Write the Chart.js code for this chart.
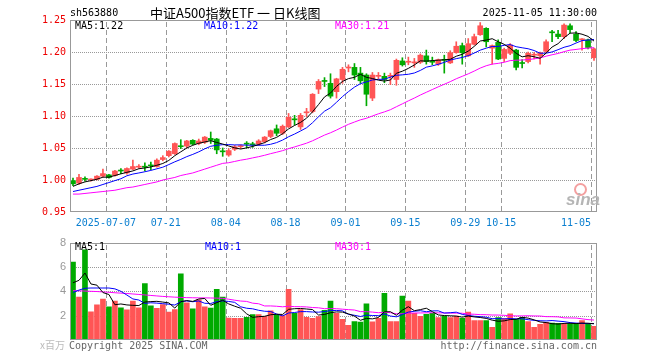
<!DOCTYPE html>
<html><head><meta charset="utf-8">
<script src="https://cdn.jsdelivr.net/npm/chart.js@4.4.1/dist/chart.umd.min.js"></script>
<style>
html,body{margin:0;padding:0;background:#fff;}
#wrap{position:relative;width:660px;height:360px;overflow:hidden;background:#fff;}
canvas{position:absolute;left:0;}
.t{position:absolute;white-space:pre;font-family:"DejaVu Sans Mono",monospace;font-size:10px;line-height:12px;}
</style></head><body>
<div id="wrap">
<canvas id="k" width="660" height="232" style="top:0;width:660px;height:232px"></canvas>
<canvas id="v" width="660" height="128" style="top:232px;width:660px;height:128px"></canvas>
<div class="t" style="left:70px;top:7px;color:#000">sh563880</div>
<div class="t" style="left:150px;top:5px;font-family:'Noto Sans CJK SC',sans-serif;font-size:13px;line-height:16px;color:#000">中证A500指数ETF 一 日K线图</div>
<div class="t" style="right:63px;top:7px;color:#000">2025-11-05 11:30:00</div>
<div class="t" id="pm5" style="left:75px;top:20px;color:#000"></div>
<div class="t" id="pm10" style="left:204px;top:20px;color:#0000ff"></div>
<div class="t" id="pm30" style="left:335px;top:20px;color:#ff00ff"></div>
<div class="t" id="vm5" style="left:75px;top:241px;color:#000"></div>
<div class="t" id="vm10" style="left:205px;top:241px;color:#0000ff"></div>
<div class="t" id="vm30" style="left:335px;top:241px;color:#ff00ff"></div>
<div class="t" style="right:595px;top:339px;color:#bbb;font-family:'Noto Sans CJK SC',sans-serif;font-size:10px;">x百万</div>
<div class="t" style="left:69px;top:340px;color:#666">Copyright 2025 SINA.COM</div>
<div class="t" style="right:63px;top:340px;color:#666">http://finance.sina.com.cn</div>
<div style="position:absolute;left:574px;top:183px;width:9px;height:9px;border:2px solid #f4a0a0;border-radius:50%;"></div>
<div class="t" style="left:566px;top:191px;color:#b5b5b5;font-family:'Liberation Sans',sans-serif;font-size:17px;line-height:18px;font-style:italic;font-weight:bold">sina</div>
</div>
<script>
const dates = ['06-27','06-30','07-01','07-02','07-03','07-04','07-07','07-08','07-09','07-10','07-11','07-14','07-15','07-16','07-17','07-18','07-21','07-22','07-23','07-24','07-25','07-28','07-29','07-30','07-31','08-01','08-04','08-05','08-06','08-07','08-08','08-11','08-12','08-13','08-14','08-15','08-18','08-19','08-20','08-21','08-22','08-25','08-26','08-27','08-28','08-29','09-01','09-02','09-03','09-04','09-05','09-08','09-09','09-10','09-11','09-12','09-15','09-16','09-17','09-18','09-19','09-22','09-23','09-24','09-25','09-26','09-29','09-30','10-09','10-10','10-13','10-14','10-15','10-16','10-17','10-20','10-21','10-22','10-23','10-24','10-27','10-28','10-29','10-30','10-31','11-03','11-04','11-05'];

const opens = [0.999,0.995,1.002,1.000,1.001,1.006,1.008,1.007,1.015,1.011,
1.017,1.020,1.021,1.023,1.021,1.032,1.038,1.041,1.053,1.053,
1.062,1.057,1.059,1.065,1.064,1.045,1.039,1.048,1.052,1.057,
1.056,1.056,1.060,1.068,1.080,1.073,1.083,1.095,1.083,1.105,
1.107,1.142,1.155,1.151,1.138,1.157,1.175,1.176,1.167,1.164,
1.128,1.162,1.162,1.162,1.157,1.186,1.184,1.183,1.184,1.194,
1.185,1.181,1.188,1.183,1.199,1.210,1.194,1.212,1.227,1.237,
1.206,1.215,1.190,1.198,1.203,1.183,1.185,1.195,1.194,1.201,
1.231,1.228,1.224,1.241,1.228,1.219,1.219,1.191];
const highs = [1.003,1.009,1.005,1.002,1.007,1.017,1.009,1.015,1.018,1.019,
1.031,1.024,1.027,1.028,1.033,1.038,1.046,1.058,1.063,1.062,
1.063,1.064,1.068,1.075,1.065,1.050,1.049,1.054,1.055,1.060,
1.059,1.063,1.068,1.078,1.086,1.086,1.104,1.101,1.104,1.112,
1.135,1.157,1.160,1.166,1.159,1.176,1.180,1.182,1.176,1.166,
1.168,1.168,1.167,1.167,1.189,1.191,1.192,1.190,1.197,1.203,
1.192,1.189,1.195,1.202,1.216,1.214,1.221,1.228,1.246,1.238,
1.211,1.219,1.206,1.213,1.204,1.188,1.200,1.199,1.200,1.219,
1.234,1.234,1.244,1.244,1.232,1.221,1.220,1.206];
const lows = [0.991,0.993,0.998,0.998,1.000,1.005,1.003,1.006,1.010,1.009,
1.016,1.018,1.014,1.016,1.020,1.030,1.036,1.040,1.049,1.050,
1.055,1.055,1.057,1.057,1.041,1.037,1.037,1.046,1.049,1.050,
1.051,1.054,1.058,1.066,1.069,1.071,1.082,1.086,1.079,1.099,
1.105,1.135,1.146,1.128,1.128,1.151,1.169,1.157,1.151,1.116,
1.124,1.158,1.152,1.149,1.148,1.178,1.180,1.176,1.182,1.181,
1.180,1.179,1.167,1.182,1.198,1.181,1.193,1.211,1.226,1.208,
1.181,1.188,1.185,1.196,1.172,1.175,1.183,1.189,1.181,1.199,
1.216,1.221,1.221,1.230,1.216,1.203,1.205,1.187];
const closes = [0.994,1.004,1.001,1.001,1.006,1.010,1.004,1.014,1.014,1.018,
1.021,1.021,1.020,1.022,1.031,1.035,1.045,1.057,1.052,1.061,
1.056,1.061,1.067,1.062,1.047,1.044,1.046,1.052,1.053,1.056,
1.055,1.061,1.067,1.077,1.073,1.084,1.098,1.094,1.101,1.106,
1.134,1.154,1.154,1.131,1.158,1.173,1.176,1.164,1.155,1.134,
1.164,1.163,1.157,1.163,1.187,1.180,1.185,1.184,1.195,1.185,
1.184,1.188,1.187,1.199,1.209,1.199,1.213,1.224,1.241,1.216,
1.210,1.189,1.204,1.211,1.176,1.182,1.198,1.196,1.199,1.216,
1.230,1.224,1.242,1.235,1.218,1.220,1.207,1.205];
const volumes = [6.4,3.52,7.4,2.32,2.88,3.36,2.72,3.2,2.64,2.48,
3.2,2.64,4.64,2.8,2.6,2.9,2.3,2.5,5.44,3.05,
2.55,3.3,2.72,2.62,4.16,3.52,1.8,1.78,1.78,1.86,
2.08,2.08,1.94,2.4,2.08,2.0,4.17,2.2,2.5,1.86,
1.78,1.92,2.44,3.2,2.2,1.7,1.2,1.52,1.48,2.97,
1.5,1.78,3.84,1.52,1.52,3.6,3.2,2.2,1.95,2.1,
2.2,1.84,1.95,1.85,1.97,1.77,2.3,1.6,1.6,1.6,
1.05,1.85,1.76,2.14,1.7,1.86,1.52,1.05,1.28,1.45,
1.38,1.37,1.34,1.34,1.3,1.6,1.3,1.13];

// moving-average values for days before a full window exists
const priceMa5Lead = [0.990,0.994,0.997,0.999];
const priceMa10Lead = [0.982,0.984,0.986,0.988,0.990,0.993,0.996,0.999,1.002];
const priceMa30Lead = [0.978,0.978,0.979,0.980,0.981,0.982,0.983,0.984,0.986,0.988,0.989,0.991,0.993,0.995,0.997,1.000,1.002,1.004,1.007,1.009,1.011,1.014,1.017,1.020,1.023,1.026,1.027,1.029,1.031];
const volMa5Lead = [4.7,4.9,5.5,4.6];
const volMa10Lead = [3.9,4.1,4.25,4.27,4.27,4.27,4.27,4.2,4.0];
const volMa30Lead = [4.05,4.04,4.02,4.00,3.98,3.95,3.92,3.88,3.85,3.82,3.78,3.74,3.70,3.66,3.62,3.58,3.55,3.52,3.50,3.48,3.47,3.46,3.46,3.45,3.44,3.42,3.35,3.27,3.20];

const priceTicks = [0.95,1.00,1.05,1.10,1.15,1.20,1.25];
const volTicks = [0,2,4,6,8];
const tickDates = ['07-07','07-21','08-04','08-18','09-01','09-15','09-29','10-15','11-05'];
const tickTexts = ['2025-07-07','07-21','08-04','08-18','09-01','09-15','09-29','10-15','11-05'];

function movingAvg(vals, n, lead){
  return vals.map((v,i)=>{
    if(i < n-1) return lead[i];
    let s=0; for(let j=i-n+1;j<=i;j++) s+=vals[j]; return s/n;
  });
}
const ma5 = movingAvg(closes,5,priceMa5Lead), ma10 = movingAvg(closes,10,priceMa10Lead), ma30 = movingAvg(closes,30,priceMa30Lead);
const vma5 = movingAvg(volumes,5,volMa5Lead), vma10 = movingAvg(volumes,10,volMa10Lead), vma30 = movingAvg(volumes,30,volMa30Lead);

const UP='#ff5555', DOWN='#00aa00';
const colors = closes.map((c,i)=> c>=opens[i] ? UP : DOWN);
const tickIdx = tickDates.map(d=>dates.indexOf(d));
const labelFor = {};
tickIdx.forEach((ix,k)=>{ labelFor[ix] = tickTexts[k] + (k===tickIdx.length-1 ? '      ' : ' '); });

const last = a => a[a.length-1];
document.getElementById('pm5').textContent = 'MA5:' + last(ma5).toFixed(2);
document.getElementById('pm10').textContent = 'MA10:' + last(ma10).toFixed(2);
document.getElementById('pm30').textContent = 'MA30:' + last(ma30).toFixed(2);
document.getElementById('vm5').textContent = 'MA5:' + Math.floor(last(vma5));
document.getElementById('vm10').textContent = 'MA10:' + Math.floor(last(vma10));
document.getElementById('vm30').textContent = 'MA30:' + Math.floor(last(vma30));

Chart.defaults.font.family = "'DejaVu Sans Mono', monospace";
Chart.defaults.font.size = 10;

// dotted horizontal and dashed vertical grid plus frame, positioned from the chart's scales
function makeDecor(yTicks){
  return {id:'decor', afterDraw(c){
    const a=c.chartArea, ctx=c.ctx, xs=c.scales.x, ys=c.scales.y;
    const L=Math.round(a.left), R=Math.round(a.right), T=Math.round(a.top), B=Math.round(a.bottom);
    const n = c.data.labels.length, cw = (a.right-a.left)/n;
    ctx.save();
    ctx.globalCompositeOperation='destination-over';
    ctx.fillStyle='#999999';
    yTicks.forEach(v=>{
      let py = Math.round(ys.getPixelForValue(v));
      if (!(py >= T && py <= B)) py = Math.round(a.bottom - (v - ys.min)/(ys.max - ys.min)*(a.bottom-a.top));
      if (py <= T+1 || py >= B-1) return;
      for (let x=L; x<R; x+=2) ctx.fillRect(x, py, 1, 1);
    });
    tickIdx.forEach(ix=>{
      let px = Math.round(xs.getPixelForTick(ix) - cw/2);
      if (!(px >= L && px <= R)) px = Math.round(a.left + ix*cw);
      for (let y=T+2; y<B; y+=8) ctx.fillRect(px, y, 1, Math.min(5, B-y));
    });
    ctx.globalCompositeOperation='source-over';
    ctx.fillRect(L, T, R-L, 1); ctx.fillRect(L, B-1, R-L, 1);
    ctx.fillRect(L, T, 1, B-T); ctx.fillRect(R-1, T, 1, B-T);
    ctx.restore();
  }};
}

function lineDs(data,color){ return {type:'line',data,borderColor:color,borderWidth:1,pointRadius:0,tension:0,fill:false,order:0}; }

new Chart(document.getElementById('k'),{
  type:'bar',
  data:{labels:dates,datasets:[
    lineDs(ma5,'#000000'), lineDs(ma10,'#0000ff'), lineDs(ma30,'#ff00ff'),
    {type:'bar',data:opens.map((o,i)=>[o,closes[i]]),backgroundColor:colors,barThickness:5,minBarLength:1,grouped:false,borderWidth:0,order:1},
    {type:'bar',data:lows.map((l,i)=>[l,highs[i]]),backgroundColor:colors,barThickness:1,grouped:false,borderWidth:0,order:2}
  ]},
  options:{responsive:false,animation:false,devicePixelRatio:1,
    layout:{padding:{left:0,right:63,top:20,bottom:0}},
    plugins:{legend:{display:false},tooltip:{enabled:false}},
    scales:{
      x:{type:'category',offset:true,
        grid:{display:false,drawTicks:false},
        border:{display:false},
        ticks:{autoSkip:false,maxRotation:0,minRotation:0,padding:5,color:'#0a7fd0',font:{size:10},
          callback:(v,i)=> labelFor[i] || ''},
        afterFit:s=>{s.height=20;}},
      y:{min:0.95,max:1.25,
        afterBuildTicks:s=>{s.ticks=priceTicks.map(v=>({value:v}));},
        grid:{display:false,drawTicks:false},
        border:{display:false},
        ticks:{padding:4,color:'#ee0000',font:{size:10},callback:v=>Number(v).toFixed(2)},
        afterFit:s=>{s.width=70;}}
    }},
  plugins:[makeDecor(priceTicks)]
});

new Chart(document.getElementById('v'),{
  type:'bar',
  data:{labels:dates,datasets:[
    lineDs(vma5,'#000000'), lineDs(vma10,'#0000ff'), lineDs(vma30,'#ff00ff'),
    {type:'bar',data:volumes,backgroundColor:colors,barThickness:5,grouped:false,borderWidth:0,order:1}
  ]},
  options:{responsive:false,animation:false,devicePixelRatio:1,
    layout:{padding:{left:0,right:63,top:8,bottom:20}},
    plugins:{legend:{display:false},tooltip:{enabled:false}},
    scales:{
      x:{type:'category',offset:true,
        grid:{display:false,drawTicks:false},
        border:{display:false},
        ticks:{display:false},
        afterFit:s=>{s.height=0;}},
      y:{min:0,max:8,
        afterBuildTicks:s=>{s.ticks=volTicks.map(v=>({value:v}));},
        grid:{display:false,drawTicks:false},
        border:{display:false},
        ticks:{padding:4,color:'#999999',font:{family:"'Liberation Sans', sans-serif",size:11},callback:v=> v===0 ? '' : String(v)},
        afterFit:s=>{s.width=70;}}
    }},
  plugins:[makeDecor(volTicks)]
});
</script>
</body></html>
